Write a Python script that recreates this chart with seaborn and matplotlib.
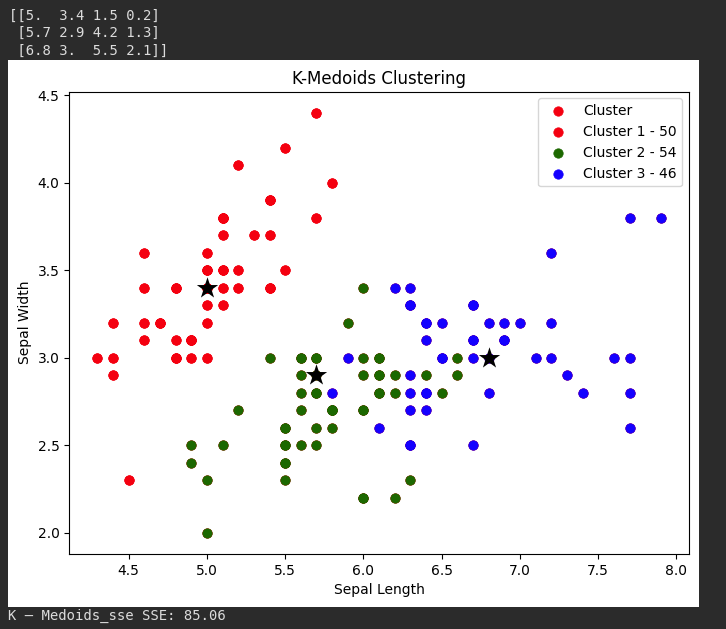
import matplotlib
matplotlib.use("Agg")
import matplotlib.pyplot as plt
from matplotlib.patches import Rectangle
import seaborn as sns

c1_x = [5.1,4.9,4.7,4.6,5.0,5.4,4.6,5.0,4.4,4.9,5.4,4.8,4.8,4.3,5.8,5.7,5.4,5.1,5.7,5.1,5.4,5.1,4.6,5.1,4.8,
        5.0,5.0,5.2,5.2,4.7,4.8,5.4,5.2,5.5,4.9,5.0,5.5,4.9,4.4,5.1,5.0,4.5,4.4,5.0,5.1,4.8,5.1,4.6,5.3,5.0]
c1_y = [3.5,3.0,3.2,3.1,3.6,3.9,3.4,3.4,2.9,3.1,3.7,3.4,3.0,3.0,4.0,4.4,3.9,3.5,3.8,3.8,3.4,3.7,3.6,3.3,3.4,
        3.0,3.4,3.5,3.4,3.2,3.1,3.4,4.1,4.2,3.1,3.2,3.5,3.1,3.0,3.4,3.5,2.3,3.2,3.5,3.8,3.0,3.8,3.2,3.7,3.3]

c2_x = [5.9,5.4,5.6,5.7,6.0,6.1,6.6,5.7,5.6,6.0,6.1,6.2,6.4,6.6,5.6,5.7,6.1,6.2,6.5,5.2,5.6,5.8,6.0,5.5,5.7,5.8,
        4.9,5.1,5.5,5.6,5.7,4.9,5.5,5.0,5.5,6.3,6.0,6.2,5.0,6.0,
        5.8,5.8,5.8,5.6,5.5,6.1,6.1,6.0,5.7,6.1,5.5,5.5,5.7,6.0]
c2_y = [3.2,3.0,3.0,3.0,3.0,3.0,3.0,2.9,2.9,2.9,2.9,2.9,2.9,2.9,2.8,2.8,2.8,2.8,2.8,2.7,2.7,2.7,2.7,2.6,2.6,2.6,
        2.5,2.5,2.5,2.5,2.5,2.4,2.4,2.3,2.3,2.3,2.2,2.2,2.0,3.4,
        2.7,2.7,2.7,3.0,2.4,2.8,3.0,2.2,2.8,2.9,2.5,2.6,3.0,2.7]

c3_x = [7.7,7.9,7.2,6.2,6.3,6.3,6.7,6.4,6.5,6.8,6.9,7.0,7.2,6.4,6.7,6.9,5.9,6.5,6.7,7.1,7.2,7.6,7.7,6.3,7.3,
        6.3,6.4,6.8,7.4,7.7,6.3,6.4,5.8,6.1,7.7,6.3,6.7,6.8,
        6.4,6.3,6.7,6.9,6.5,6.3,6.4,6.7]
c3_y = [3.8,3.8,3.6,3.4,3.4,3.3,3.3,3.2,3.2,3.2,3.2,3.2,3.2,3.1,3.1,3.1,3.0,3.0,3.0,3.0,3.0,3.0,3.0,2.9,2.9,
        2.8,2.8,2.8,2.8,2.8,2.7,2.7,2.8,2.6,2.6,2.5,2.5,3.0,
        3.2,3.3,3.1,3.1,3.0,2.5,2.8,3.3]

medoid_x = [5.0, 5.7, 6.8]
medoid_y = [3.4, 2.9, 3.0]

title = "K-Medoids Clustering"
xlabel = "Sepal Length"
ylabel = "Sepal Width"
top_text = "[[5.  3.4 1.5 0.2]\n [5.7 2.9 4.2 1.3]\n [6.8 3.  5.5 2.1]]"
bottom_text = "K – Medoids_sse SSE: 85.06"

RED, GREEN, BLUE = "#f40010", "#1c6800", "#1400ff"
DARK = "#2b2b2b"
W, H = 726, 629

fig = plt.figure(figsize=(W / 100, H / 100), dpi=100, facecolor=DARK)
fig.add_artist(Rectangle((8 / W, 1 - 607 / H), 691 / W, 547 / H, transform=fig.transFigure,
                         facecolor="white", edgecolor="none", zorder=-1))
ax = fig.add_axes([69.2 / W, 1 - 554 / H, 619.8 / W, 462.5 / H])
ax.patch.set_facecolor("white")

kw = dict(s=46, linewidth=0.5, edgecolor="face", ax=ax)
sns.scatterplot(x=c1_x + c2_x + c3_x, y=c1_y + c2_y + c3_y, color=RED, label="Cluster", **kw)
sns.scatterplot(x=c1_x, y=c1_y, color=RED, label=f"Cluster 1 - {len(c1_x)}", **kw)
sns.scatterplot(x=c2_x, y=c2_y, color=GREEN, label=f"Cluster 2 - {len(c2_x)}", **kw)
sns.scatterplot(x=c3_x, y=c3_y, color=BLUE, label=f"Cluster 3 - {len(c3_x)}", **kw)
sns.scatterplot(x=medoid_x, y=medoid_y, color="black", marker="*", s=260, linewidth=0, ax=ax, zorder=5)

ax.set_title(title, pad=5.5)
ax.set_xlabel(xlabel)
ax.set_ylabel(ylabel)
ax.legend(loc="upper right")

mono = "DejaVu Sans Mono"
fig.text(9 / W, 1 - 9 / H, top_text, color="#dcdcdc", family=mono, fontsize=10, va="top", ha="left", linespacing=1.3)
fig.text(8 / W, 1 - 616 / H, bottom_text, color="#dcdcdc", family=mono, fontsize=10, va="center", ha="left")

fig.savefig("out.png", dpi=100, facecolor=fig.get_facecolor())
